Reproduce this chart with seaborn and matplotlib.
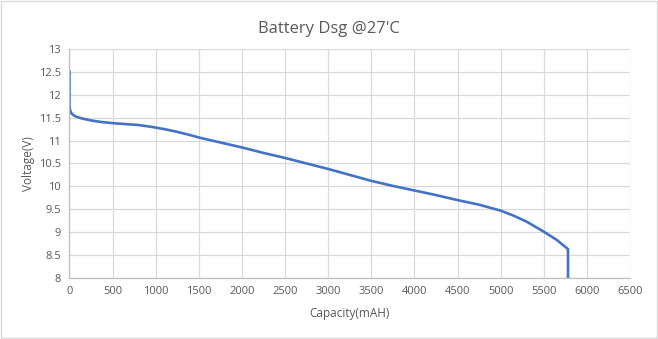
import matplotlib
matplotlib.use("Agg")
import matplotlib.pyplot as plt
import seaborn as sns
import pandas as pd

capacity = [0, 0, 5, 20, 50, 80, 150, 250, 315, 400, 505, 650, 800, 950, 1100, 1250, 1400, 1515, 1700,
            2000, 2250, 2500, 2750, 3000, 3250, 3500, 3750, 4000, 4250, 4500, 4750, 5000,
            5150, 5300, 5500, 5650, 5780, 5780]
voltage = [12.52, 11.74, 11.68, 11.60, 11.55, 11.52, 11.48, 11.44, 11.42, 11.40, 11.38, 11.36, 11.34, 11.30, 11.25, 11.19,
           11.12, 11.06, 10.98, 10.85, 10.73, 10.62, 10.50, 10.38, 10.25, 10.12, 10.01, 9.91, 9.81, 9.70,
           9.60, 9.47, 9.36, 9.23, 9.01, 8.83, 8.63, 8.0]

x_ticks = list(range(0, 6501, 500))
y_ticks = [8, 8.5, 9, 9.5, 10, 10.5, 11, 11.5, 12, 12.5, 13]

df = pd.DataFrame({"Capacity": capacity, "Voltage": voltage})

sns.set_theme(style="white")
plt.rcParams["font.family"] = ["Open Sans", "DejaVu Sans"]

fig = plt.figure(figsize=(6.58, 3.39), dpi=100)
ax = fig.add_axes([0.1056, 0.18, 0.852, 0.6755])

sns.lineplot(data=df, x="Capacity", y="Voltage", sort=False, estimator=None,
             color="#4472C4", linewidth=1.9, ax=ax)

ax.set_xlim(0, 6500)
ax.set_ylim(8, 13)
ax.set_xticks(x_ticks)
ax.set_xticklabels([str(t) for t in x_ticks])
ax.set_yticks(y_ticks)
ax.set_yticklabels([f"{t:g}" for t in y_ticks])
ax.grid(True, color="#D9D9D9", linewidth=0.9)
ax.set_axisbelow(True)
for s in ["top", "right"]:
    ax.spines[s].set_visible(False)
for s in ["left", "bottom"]:
    ax.spines[s].set_color("#BFBFBF")
    ax.spines[s].set_linewidth(0.9)
ax.tick_params(axis="both", length=0, labelsize=8, colors="#595959", pad=6)

ax.set_xlabel("Capacity(mAH)", fontsize=8.5, color="#595959", labelpad=7)
ax.set_ylabel("Voltage(V)", fontsize=8.5, color="#595959", labelpad=3)
fig.text(0.5, 0.913, "Battery Dsg @27'C", ha="center", va="center", fontsize=12, color="#595959")

# chart border
fig.patches.append(plt.Rectangle((0.002, 0.003), 0.996, 0.994, transform=fig.transFigure,
                                 fill=False, edgecolor="#D9D9D9", linewidth=1.0))

fig.savefig("out.png", dpi=100, facecolor="white")
